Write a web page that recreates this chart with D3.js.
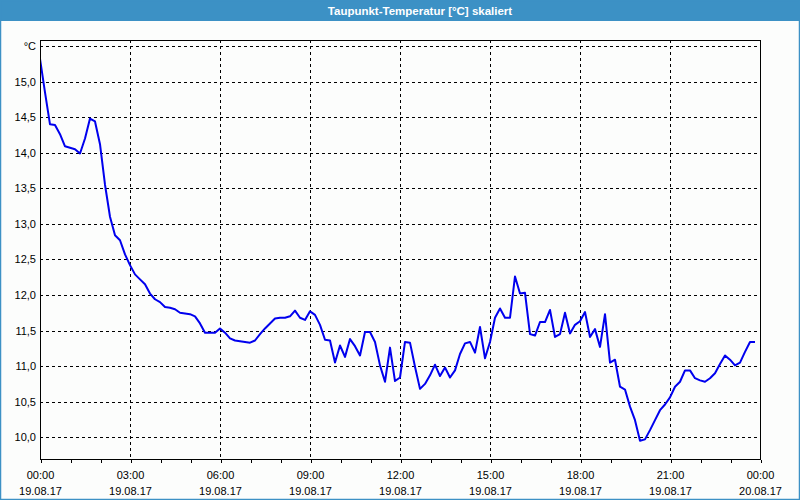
<!DOCTYPE html>
<html>
<head>
<meta charset="utf-8">
<script src="https://cdn.jsdelivr.net/npm/d3@7"></script>
<style>
  html, body { margin: 0; padding: 0; background: #fcfdfc; }
  svg { display: block; }
  text { font-family: "Liberation Sans", Arial, sans-serif; }
</style>
</head>
<body>
<svg id="chart" width="800" height="500"></svg>
<script>
// ---------- DATA ----------
const chartTitle = "Taupunkt-Temperatur [°C] skaliert";
const unitLabel = "°C";
const startTime = "2017-08-19T00:00:00";
const endTime = "2017-08-20T00:00:00";
const sampleMinutes = 10;
// Dew point values, one every 10 minutes from 00:00
const dewPoint = [
  15.32, 14.85, 14.40, 14.39, 14.26, 14.09, 14.07, 14.05, 13.99, 14.20,
  14.48, 14.44, 14.12, 13.55, 13.10, 12.84, 12.77, 12.57, 12.42, 12.29,
  12.22, 12.15, 12.02, 11.94, 11.90, 11.83, 11.82, 11.80, 11.75, 11.74,
  11.73, 11.70, 11.60, 11.47, 11.47, 11.47, 11.53, 11.47, 11.39, 11.36,
  11.35, 11.34, 11.33, 11.36, 11.45, 11.53, 11.60, 11.67, 11.68, 11.68,
  11.70, 11.78, 11.68, 11.65, 11.77, 11.72, 11.58, 11.37, 11.36, 11.05,
  11.29, 11.13, 11.38, 11.28, 11.15, 11.48, 11.48, 11.34, 11.01, 10.78,
  11.26, 10.79, 10.84, 11.34, 11.33, 10.99, 10.68, 10.75, 10.87, 11.02,
  10.86, 10.98, 10.84, 10.94, 11.17, 11.32, 11.34, 11.19, 11.55, 11.11,
  11.34, 11.68, 11.81, 11.68, 11.68, 12.26, 12.02, 12.03, 11.45, 11.43,
  11.62, 11.62, 11.79, 11.41, 11.45, 11.75, 11.46, 11.58, 11.63, 11.76,
  11.41, 11.52, 11.27, 11.73, 11.05, 11.09, 10.71, 10.67, 10.43, 10.24,
  9.95, 9.97, 10.10, 10.24, 10.38, 10.46, 10.56, 10.71, 10.78, 10.94,
  10.94, 10.83, 10.80, 10.78, 10.83, 10.90, 11.03, 11.15, 11.09, 11.01,
  11.05, 11.20, 11.34, 11.34
];
const yTicks = [10.0, 10.5, 11.0, 11.5, 12.0, 12.5, 13.0, 13.5, 14.0, 14.5, 15.0, 15.5];
const yTickLabels = ["10,0", "10,5", "11,0", "11,5", "12,0", "12,5", "13,0", "13,5", "14,0", "14,5", "15,0", "°C"];
const xTickTimes = ["00:00", "03:00", "06:00", "09:00", "12:00", "15:00", "18:00", "21:00", "00:00"];
const xTickDates = ["19.08.17", "19.08.17", "19.08.17", "19.08.17", "19.08.17", "19.08.17", "19.08.17", "19.08.17", "20.08.17"];
const yDomain = [9.68, 15.585];

// ---------- LAYOUT ----------
const W = 800, H = 500;
const plot = { left: 40, right: 760, top: 40, bottom: 460 };
const frameColor = "#3c91c5";

const svg = d3.select("#chart");
const t0 = new Date(startTime), t1 = new Date(endTime);
const data = dewPoint.map((v, i) => ({ t: new Date(t0.getTime() + i * sampleMinutes * 60000), v }));

const x = d3.scaleTime().domain([t0, t1]).range([plot.left, plot.right]);
const y = d3.scaleLinear().domain(yDomain).range([plot.bottom, plot.top]);

// background
svg.append("rect").attr("x", 0).attr("y", 0).attr("width", W).attr("height", H).attr("fill", "#fcfdfc");
// title bar
svg.append("rect").attr("x", 0).attr("y", 0).attr("width", W).attr("height", 21).attr("fill", frameColor);
svg.append("text").attr("x", 420).attr("y", 14.5).attr("text-anchor", "middle")
  .attr("fill", "#ffffff").attr("font-weight", "bold").attr("font-size", "11.5px").text(chartTitle);
// window frame
svg.append("rect").attr("x", 0.5).attr("y", 0.5).attr("width", W - 1).attr("height", H - 1)
  .attr("fill", "none").attr("stroke", frameColor).attr("stroke-width", 1.5);

// grid
const grid = svg.append("g").attr("shape-rendering", "crispEdges");
const majorTicks = d3.range(0, 9).map(k => new Date(t0.getTime() + k * 3 * 3600000));
grid.selectAll(".hgrid").data(yTicks).join("line")
  .attr("x1", plot.left).attr("x2", plot.right)
  .attr("y1", d => Math.round(y(d)) + 0.5).attr("y2", d => Math.round(y(d)) + 0.5)
  .attr("stroke", "#000").attr("stroke-width", 1).attr("stroke-dasharray", "3,3");
grid.selectAll(".vgrid").data(majorTicks.slice(1, -1)).join("line")
  .attr("x1", d => Math.round(x(d)) + 0.5).attr("x2", d => Math.round(x(d)) + 0.5)
  .attr("y1", plot.top).attr("y2", plot.bottom)
  .attr("stroke", "#000").attr("stroke-width", 1).attr("stroke-dasharray", "3,3");

// data line
svg.append("clipPath").attr("id", "clip").append("rect")
  .attr("x", plot.left).attr("y", plot.top).attr("width", plot.right - plot.left).attr("height", plot.bottom - plot.top);
const line = d3.line().x(d => x(d.t)).y(d => y(d.v));
svg.append("path").datum(data).attr("d", line).attr("clip-path", "url(#clip)")
  .attr("fill", "none").attr("stroke", "#0000ee").attr("stroke-width", 2).attr("stroke-linejoin", "round");

// plot border
svg.append("rect").attr("x", plot.left + 0.5).attr("y", plot.top + 0.5)
  .attr("width", plot.right - plot.left).attr("height", plot.bottom - plot.top - 1)
  .attr("fill", "none").attr("stroke", "#000").attr("stroke-width", 1).attr("shape-rendering", "crispEdges");

// x axis (hourly ticks, labels every 3h)
const xAxis = d3.axisBottom(x).ticks(d3.timeHour.every(1)).tickSize(3).tickFormat("");
const gx = svg.append("g").attr("transform", `translate(0.5,${plot.bottom - 0.5})`).call(xAxis);
gx.select(".domain").remove();
gx.selectAll(".tick line").attr("stroke", "#000").attr("shape-rendering", "crispEdges");
const xl = svg.append("g").attr("font-size", "11px").attr("fill", "#000").attr("text-anchor", "middle");
xl.selectAll(".tt").data(majorTicks).join("text")
  .attr("x", d => x(d) + 0.5).attr("y", 479).text((d, i) => xTickTimes[i]);
xl.selectAll(".td").data(majorTicks).join("text")
  .attr("x", d => x(d) + 0.5).attr("y", 495).text((d, i) => xTickDates[i]);

// y axis labels
const yAxis = d3.axisLeft(y).tickValues(yTicks).tickSize(0).tickPadding(4)
  .tickFormat((d, i) => yTickLabels[i]);
const gy = svg.append("g").attr("transform", `translate(${plot.left},0)`).call(yAxis);
gy.select(".domain").remove();
gy.selectAll(".tick text").attr("font-size", "11px").attr("fill", "#000")
  .attr("font-family", "'Liberation Sans', Arial, sans-serif");
</script>
</body>
</html>
